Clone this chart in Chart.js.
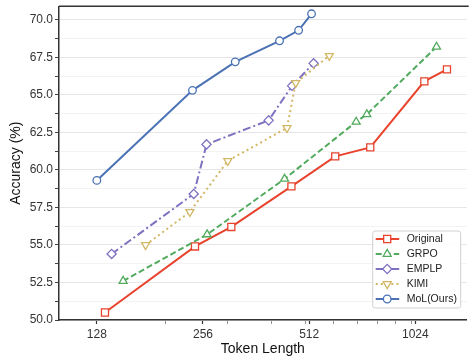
<!DOCTYPE html>
<html>
<head>
    <title>Accuracy vs Token Length</title>
    <style>
        html, body { margin: 0; padding: 0; background: #fff; overflow: hidden; }
        #chartBox { width: 469px; height: 358px; overflow: hidden; }
    </style>
</head>
<body>
    <div id="chartBox">
        <!-- canvas is a few px wider than the window: the plot runs off the right edge like the reference -->
        <canvas id="myChart" width="473" height="358"></canvas>
    </div>
</body>
<script src="https://cdn.jsdelivr.net/npm/chart.js"></script>
<script>
    // values
    const originalTokens = [135, 243, 308, 456, 607, 763, 1086, 1259];
    const originalAcc = [50.5, 54.9, 56.2, 58.9, 60.9, 61.5, 65.9, 66.7];
    const grpoTokens = [152, 263, 436, 696, 746, 1176];
    const grpoAcc = [52.6, 55.7, 59.4, 63.2, 63.7, 68.2];
    const emplpTokens = [141, 241, 262, 393, 458, 527];
    const emplpAcc = [54.4, 58.4, 61.7, 63.3, 65.6, 67.1];
    const kimiTokens = [176, 235, 301, 443, 469, 584];
    const kimiAcc = [55.0, 57.2, 60.6, 62.8, 65.8, 67.6];
    const molTokens = [128, 239, 316, 422, 478, 520];
    const molAcc = [59.3, 65.3, 67.2, 68.6, 69.3, 70.4];

    const seriesNames = ["Original", "GRPO", "EMPLP", "KIMI", "MoL(Ours)"];

    // tick labels
    const xMajorTicks = [128, 256, 512, 1024];
    const xMinorTicks = [200, 300, 400, 500, 600, 700, 800, 900, 1000];
    const yMajorTicks = [50.0, 52.5, 55.0, 57.5, 60.0, 62.5, 65.0, 67.5, 70.0];
    const yMinorTicks = [51.25, 53.75, 56.25, 58.75, 61.25, 63.75, 66.25, 68.75];

    const FONT = "'Liberation Sans', Arial, Helvetica, sans-serif";

    function toPoints(xs, ys){
        return xs.map((x, i) => ({x: x, y: ys[i]}));
    }

    function makeSet(name, xs, ys, color, dash, style, radius, rotation, order){
        return {
            label: name,
            data: toPoints(xs, ys),
            borderColor: color,
            backgroundColor: '#ffffff',
            borderWidth: 2,
            borderDash: dash,
            pointStyle: style,
            pointRadius: radius,
            pointHoverRadius: radius,
            pointRotation: rotation,
            pointBorderColor: color,
            pointBackgroundColor: '#ffffff',
            pointBorderWidth: 1.3,
            tension: 0,
            fill: false,
            order: order
        };
    }

    const datasets = [
        makeSet(seriesNames[0], originalTokens, originalAcc, '#e8432d', [], 'rect', 5, 0, 5),
        makeSet(seriesNames[1], grpoTokens, grpoAcc, '#52aa5e', [6, 3], 'triangle', 4.6, 0, 4),
        makeSet(seriesNames[2], emplpTokens, emplpAcc, '#8070c0', [8, 3, 2, 3], 'rectRot', 4.6, 0, 3),
        makeSet(seriesNames[3], kimiTokens, kimiAcc, '#d2b765', [2, 3.2], 'triangle', 4.6, 180, 2),
        makeSet(seriesNames[4], molTokens, molAcc, '#4a72b5', [], 'circle', 3.8, 0, 1)
    ];

    // simple marker drawing for the legend
    function drawMarker(ctx, ds, x, y){
        const r = ds.pointRadius;
        ctx.save();
        ctx.setLineDash([]);
        ctx.strokeStyle = ds.borderColor;
        ctx.fillStyle = '#ffffff';
        ctx.lineWidth = ds.pointBorderWidth;
        ctx.beginPath();
        if(ds.pointStyle === 'rect'){
            const s = Math.SQRT1_2 * r;
            ctx.rect(x - s, y - s, 2 * s, 2 * s);
        } else if(ds.pointStyle === 'rectRot'){
            ctx.moveTo(x - r, y);
            ctx.lineTo(x, y - r);
            ctx.lineTo(x + r, y);
            ctx.lineTo(x, y + r);
            ctx.closePath();
        } else if(ds.pointStyle === 'triangle'){
            const flip = ds.pointRotation === 180 ? -1 : 1;
            ctx.moveTo(x, y - flip * r);
            ctx.lineTo(x + r * 0.866, y + flip * r / 2);
            ctx.lineTo(x - r * 0.866, y + flip * r / 2);
            ctx.closePath();
        } else {
            ctx.arc(x, y, r, 0, Math.PI * 2);
        }
        ctx.fill();
        ctx.stroke();
        ctx.restore();
    }

    // legend box in lower right + top spine
    const framePlugin = {
        id: 'framePlugin',
        afterDraw(chart){
            const ctx = chart.ctx;
            const area = chart.chartArea;

            ctx.save();
            ctx.strokeStyle = '#333333';
            ctx.lineWidth = 1.5;
            ctx.beginPath();
            ctx.moveTo(area.left, area.top);
            ctx.lineTo(area.right + 2, area.top);
            ctx.stroke();

            const w = 88, h = 77;
            const bx = area.right - 6.5 - w;
            const by = area.bottom - 12.5 - h;
            ctx.fillStyle = 'rgba(255,255,255,0.85)';
            ctx.strokeStyle = '#d0d0d0';
            ctx.lineWidth = 1;
            ctx.beginPath();
            ctx.roundRect(bx + 0.5, by + 0.5, w, h, 2.5);
            ctx.fill();
            ctx.stroke();

            ctx.font = "10.5px " + FONT;
            ctx.textBaseline = 'middle';
            ctx.textAlign = 'left';
            chart.data.datasets.forEach((ds, i) => {
                const y = by + 8.5 + i * 15;
                ctx.save();
                ctx.strokeStyle = ds.borderColor;
                ctx.lineWidth = 2;
                ctx.setLineDash(ds.borderDash);
                ctx.beginPath();
                ctx.moveTo(bx + 3.5, y);
                ctx.lineTo(bx + 27, y);
                ctx.stroke();
                ctx.restore();
                drawMarker(ctx, ds, bx + 15, y);
                ctx.fillStyle = '#222222';
                ctx.fillText(ds.label, bx + 34.5, y + 0.5);
            });
            ctx.restore();
        }
    };

    const config = {
        type: 'line',
        data: { datasets: datasets },
        options: {
            responsive: false,
            devicePixelRatio: 1,
            animation: false,
            layout: { padding: { top: 3, right: 1, left: 0, bottom: 0 } },
            plugins: {
                legend: { display: false },
                tooltip: { enabled: false }
            },
            scales: {
                x: {
                    type: 'logarithmic',
                    min: 100,
                    max: 1432,
                    afterBuildTicks: (scale) => {
                        scale.ticks = xMajorTicks.concat(xMinorTicks)
                            .sort((a, b) => a - b)
                            .map(v => ({value: v}));
                    },
                    afterFit: (scale) => {
                        scale.height = 38;
                        scale.paddingLeft = 0;
                        scale.paddingRight = 0;
                    },
                    ticks: {
                        autoSkip: false,
                        maxRotation: 0,
                        padding: 3,
                        color: '#333333',
                        font: { family: FONT, size: 12 },
                        callback: (v) => xMajorTicks.includes(v) ? String(v) : ''
                    },
                    grid: {
                        drawOnChartArea: false,
                        tickLength: 4,
                        tickColor: (c) => xMajorTicks.includes(c.tick && c.tick.value) ? '#333333' : '#777777',
                        tickWidth: (c) => xMajorTicks.includes(c.tick && c.tick.value) ? 1.2 : 0.8
                    },
                    border: { display: true, color: '#333333', width: 1.5 },
                    title: {
                        display: true,
                        text: 'Token Length',
                        color: '#111111',
                        font: { family: FONT, size: 14 },
                        padding: { top: 0, bottom: 0 }
                    }
                },
                y: {
                    type: 'linear',
                    min: 50,
                    max: 70.9,
                    afterBuildTicks: (scale) => {
                        scale.ticks = yMajorTicks.concat(yMinorTicks)
                            .sort((a, b) => a - b)
                            .map(v => ({value: v}));
                    },
                    afterFit: (scale) => {
                        scale.width = 59;
                        scale.paddingTop = 0;
                        scale.paddingBottom = 0;
                    },
                    ticks: {
                        autoSkip: false,
                        padding: 2,
                        color: '#333333',
                        font: { family: FONT, size: 12 },
                        callback: (v) => yMajorTicks.includes(v) ? v.toFixed(1) : ''
                    },
                    grid: {
                        tickLength: 4,
                        color: (c) => yMajorTicks.includes(c.tick && c.tick.value) ? '#e6e6e6' : '#f3f3f3',
                        lineWidth: 1,
                        tickColor: '#444444',
                        tickWidth: 1
                    },
                    border: { display: true, color: '#333333', width: 1.5 },
                    title: {
                        display: true,
                        text: 'Accuracy (%)',
                        color: '#111111',
                        font: { family: FONT, size: 14 },
                        padding: { top: 8, bottom: 0 }
                    }
                }
            }
        },
        plugins: [framePlugin]
    };

    let myChart = new Chart(document.getElementById('myChart'), config);
</script>
</html>
